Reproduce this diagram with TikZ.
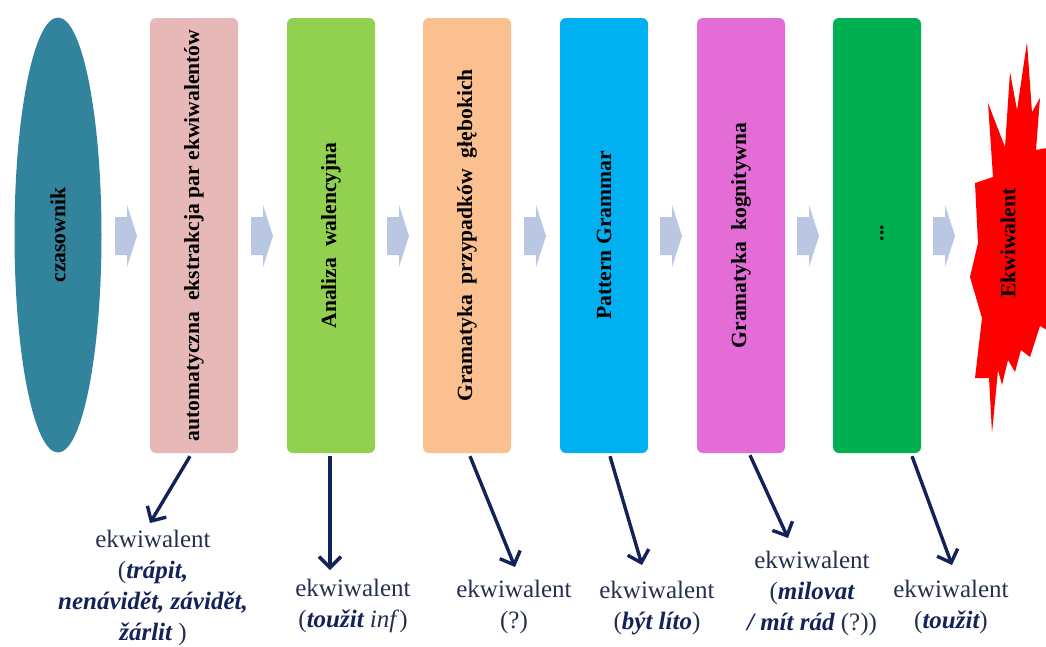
\documentclass[tikz,border=0pt]{standalone}
\usepackage{fontspec}
\setmainfont{Liberation Serif}
\usetikzlibrary{arrows.meta,shapes.geometric}
\definecolor{tealc}{RGB}{49,132,155}
\definecolor{pinkc}{RGB}{230,184,183}
\definecolor{lgreenc}{RGB}{146,208,80}
\definecolor{orangec}{RGB}{250,192,143}
\definecolor{bluec}{RGB}{0,176,240}
\definecolor{magc}{RGB}{228,108,214}
\definecolor{dgreenc}{RGB}{0,176,80}
\definecolor{chevc}{RGB}{185,199,226}
\definecolor{navyc}{RGB}{20,34,90}
\definecolor{lblc}{RGB}{38,48,78}
\newcommand\bitx[1]{{\color{navyc}\bfseries\itshape #1}}
\begin{document}
\begin{tikzpicture}[x=1pt,y=-1pt,
  stagebox/.style={rounded corners=6pt, minimum width=88pt, minimum height=435pt, inner sep=0pt},
  stagetext/.style={rotate=90, font=\fontsize{21.6}{24}\selectfont\bfseries, text=black, inner sep=0pt},
  lbl/.style={align=center, text=lblc, font=\fontsize{25}{31}\selectfont, inner sep=0pt},
  conn/.style={draw=navyc, line width=3.4pt, -{Straight Barb[length=11pt,width=22pt]}},
  chevron/.pic={\fill[chevc] (0,-19) -- (12,-19) -- (12,-31) -- (22,0) -- (12,31) -- (12,19) -- (0,19) -- cycle;}
]
\useasboundingbox (0,0) rectangle (1046,646);
\fill[white] (0,0) rectangle (1046,646);

% first shape
\node[ellipse, fill=tealc, minimum width=87pt, minimum height=435pt, inner sep=0pt] (e0) at (58,235) {};
\node[stagetext] (e0t) at (e0) {czasownik};

% stages
\node[stagebox, fill=pinkc]   (b1) at (194,235.5) {};
\node[stagebox, fill=lgreenc] (b2) at (331,235.5) {};
\node[stagebox, fill=orangec] (b3) at (467,235.5) {};
\node[stagebox, fill=bluec]   (b4) at (604,235.5) {};
\node[stagebox, fill=magc]    (b5) at (741,235.5) {};
\node[stagebox, fill=dgreenc] (b6) at (877,235.5) {};

\node[stagetext] (b1t) at (b1) {automatyczna\ \ ekstrakcja par ekwiwalentów};
\node[stagetext] (b2t) at (b2) {Analiza\ \ walencyjna};
\node[stagetext] (b3t) at (b3) {Gramatyka\ \ przypadków\ \ głębokich};
\node[stagetext] (b4t) at (b4) {Pattern Grammar};
\node[stagetext] (b5t) at (b5) {Gramatyka\ \ kognitywna};
\node[stagetext] (b6t) at (882,233) {...};

% chevrons
\pic at (115,236) {chevron};
\pic at (251,236) {chevron};
\pic at (387,236) {chevron};
\pic at (524,236) {chevron};
\pic at (660,236) {chevron};
\pic at (797,236) {chevron};
\pic at (933,236) {chevron};

% explosion
\fill[red] (1027,42) -- (1032,112) -- (1040,98) -- (1036,150) -- (1047,148) -- (1047,330)
  -- (1040,326) -- (1030,357) -- (1021,350) -- (1015,372) -- (1008,360) -- (1002,385)
  -- (998,370) -- (992,433) -- (989,378) -- (975,378) -- (982,318) -- (970,277)
  -- (978,243) -- (975,183) -- (993,177) -- (988,103) -- (1005,147) -- (1010,72)
  -- (1017,110) -- cycle;
\node[stagetext] (ekw) at (1008,243) {Ekwiwalent};

% labels
\node[lbl] (l1) at (153,588) {ekwiwalent\\(\bitx{trápit,}\\\bitx{nenávidět, závidět,}\\\bitx{žárlit} )};
\node[lbl] (l2) at (353,606) {ekwiwalent\\(\bitx{toužit} \textit{inf})};
\node[lbl] (l3) at (514,607) {ekwiwalent\\(?)};
\node[lbl] (l4) at (657,608) {ekwiwalent\\(\bitx{být líto})};
\node[lbl] (l5) at (812,593) {ekwiwalent\\(\bitx{milovat}\\\bitx{/ mít rád} (?))};
\node[lbl] (l6) at (951,607) {ekwiwalent\\(\bitx{toužit})};

% arrow ends
\coordinate (t1) at (150,523);
\coordinate (t2) at (330,570);
\coordinate (t3) at (515,567);
\coordinate (t4) at (642,565);
\coordinate (t5) at (788,538);
\coordinate (t6) at (952,565);

\draw[conn] ([shift={(-4,3)}]b1.south) -- (t1);
\draw[conn] ([shift={(-1,3)}]b2.south) -- (t2);
\draw[conn] ([shift={(3,3)}]b3.south) -- (t3);
\draw[conn] ([shift={(6,3)}]b4.south) -- (t4);
\draw[conn] ([shift={(9,2)}]b5.south) -- (t5);
\draw[conn] ([shift={(35,3)}]b6.south) -- (t6);
\end{tikzpicture}
\end{document}
